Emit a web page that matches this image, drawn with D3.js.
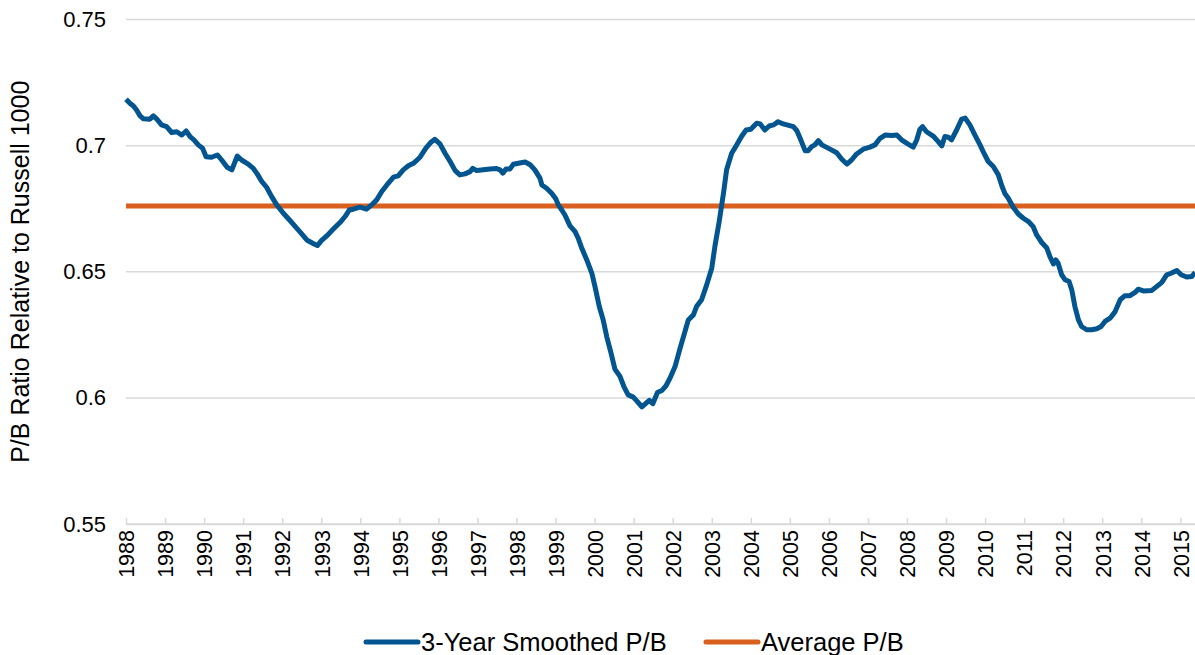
<!DOCTYPE html>
<html>
<head>
<meta charset="utf-8">
<script src="https://cdn.jsdelivr.net/npm/d3@7"></script>
<style>
  body { margin: 0; background: #fff; }
  svg { display: block; font-family: "Liberation Sans", Arial, sans-serif; }
  .grid line { stroke: #d9d9d9; stroke-width: 1.5; }
  .tick text { fill: #000; }
</style>
</head>
<body>
<div id="chart"></div>
<script>
// dates as decimal years, P/B relative to Russell 1000
const dates = [
  1988.00, 1988.10, 1988.19, 1988.27, 1988.36, 1988.44, 1988.61, 1988.70, 1988.79, 1988.91,
  1989.04, 1989.17, 1989.30, 1989.43, 1989.54, 1989.64, 1989.74, 1989.85, 1989.96, 1990.05,
  1990.19, 1990.34, 1990.45, 1990.59, 1990.71, 1990.85, 1990.96, 1991.13, 1991.26, 1991.36,
  1991.48, 1991.60, 1991.73, 1991.86, 1992.03, 1992.20, 1992.37, 1992.50, 1992.63, 1992.78,
  1992.90, 1993.01, 1993.14, 1993.31, 1993.48, 1993.61, 1993.72, 1993.82, 1993.99, 1994.16,
  1994.29, 1994.42, 1994.55, 1994.68, 1994.85, 1994.97, 1995.10, 1995.23, 1995.36, 1995.53,
  1995.68, 1995.80, 1995.91, 1996.04, 1996.17, 1996.30, 1996.43, 1996.55, 1996.68, 1996.81,
  1996.88, 1996.98, 1997.15, 1997.32, 1997.49, 1997.58, 1997.65, 1997.73, 1997.83, 1997.92,
  1998.05, 1998.22, 1998.35, 1998.47, 1998.60, 1998.65, 1998.77, 1998.90, 1999.01, 1999.07,
  1999.16, 1999.24, 1999.37, 1999.50, 1999.58, 1999.67, 1999.80, 1999.93, 2000.01, 2000.12,
  2000.22, 2000.31, 2000.41, 2000.52, 2000.65, 2000.75, 2000.86, 2000.99, 2001.09, 2001.21,
  2001.32, 2001.40, 2001.49, 2001.61, 2001.72, 2001.83, 2001.93, 2002.06, 2002.19, 2002.29,
  2002.40, 2002.53, 2002.61, 2002.74, 2002.87, 2003.00, 2003.08, 2003.19, 2003.30, 2003.38,
  2003.51, 2003.64, 2003.77, 2003.88, 2004.00, 2004.15, 2004.24, 2004.36, 2004.47, 2004.58,
  2004.70, 2004.83, 2005.09, 2005.18, 2005.28, 2005.39, 2005.47, 2005.56, 2005.64, 2005.73,
  2005.82, 2005.98, 2006.20, 2006.33, 2006.46, 2006.58, 2006.71, 2006.88, 2007.05, 2007.18,
  2007.31, 2007.44, 2007.61, 2007.74, 2007.86, 2008.03, 2008.16, 2008.25, 2008.33, 2008.40,
  2008.50, 2008.67, 2008.80, 2008.89, 2008.97, 2009.06, 2009.14, 2009.27, 2009.40, 2009.49,
  2009.61, 2009.74, 2009.87, 2009.97, 2010.08, 2010.21, 2010.34, 2010.43, 2010.51, 2010.59,
  2010.72, 2010.85, 2010.98, 2011.11, 2011.23, 2011.32, 2011.45, 2011.58, 2011.66, 2011.75,
  2011.81, 2011.87, 2011.96, 2012.05, 2012.15, 2012.22, 2012.30, 2012.39, 2012.47, 2012.60,
  2012.73, 2012.86, 2012.97, 2013.07, 2013.20, 2013.33, 2013.46, 2013.58, 2013.71, 2013.84,
  2013.92, 2014.05, 2014.27, 2014.39, 2014.52, 2014.65, 2014.76, 2014.91, 2015.02, 2015.16,
  2015.29, 2015.38
];
const smoothedPB = [
  0.7184, 0.7168, 0.7157, 0.7141, 0.7118, 0.7107, 0.7105, 0.7118, 0.7105, 0.7082,
  0.7075, 0.7052, 0.7055, 0.7042, 0.7058, 0.7036, 0.7023, 0.7003, 0.6990, 0.6956,
  0.6954, 0.6963, 0.6943, 0.6914, 0.6904, 0.6959, 0.6943, 0.6927, 0.6910, 0.6888,
  0.6857, 0.6835, 0.6798, 0.6765, 0.6732, 0.6703, 0.6673, 0.6650, 0.6626, 0.6613,
  0.6604, 0.6624, 0.6642, 0.6669, 0.6695, 0.6719, 0.6745, 0.6748, 0.6756, 0.6748,
  0.6765, 0.6785, 0.6818, 0.6844, 0.6875, 0.6880, 0.6904, 0.6920, 0.6930, 0.6954,
  0.6990, 0.7012, 0.7025, 0.7007, 0.6970, 0.6937, 0.6901, 0.6884, 0.6888, 0.6897,
  0.6910, 0.6901, 0.6904, 0.6907, 0.6909, 0.6904, 0.6891, 0.6907, 0.6907, 0.6926,
  0.6930, 0.6935, 0.6924, 0.6904, 0.6871, 0.6844, 0.6831, 0.6811, 0.6788, 0.6765,
  0.6745, 0.6725, 0.6682, 0.6659, 0.6633, 0.6594, 0.6547, 0.6494, 0.6441, 0.6362,
  0.6309, 0.6243, 0.6184, 0.6114, 0.6085, 0.6045, 0.6012, 0.6003, 0.5986, 0.5964,
  0.5979, 0.5990, 0.5977, 0.6021, 0.6029, 0.6048, 0.6078, 0.6124, 0.6197, 0.6250,
  0.6309, 0.6329, 0.6362, 0.6389, 0.6448, 0.6514, 0.6600, 0.6699, 0.6811, 0.6904,
  0.6970, 0.7003, 0.7038, 0.7062, 0.7065, 0.7089, 0.7086, 0.7062, 0.7078, 0.7082,
  0.7095, 0.7086, 0.7075, 0.7059, 0.7023, 0.6980, 0.6980, 0.6996, 0.7003, 0.7020,
  0.7003, 0.6990, 0.6972, 0.6946, 0.6927, 0.6943, 0.6967, 0.6986, 0.6994, 0.7003,
  0.7029, 0.7042, 0.7040, 0.7042, 0.7023, 0.7006, 0.6994, 0.7023, 0.7065, 0.7075,
  0.7055, 0.7038, 0.7016, 0.6999, 0.7036, 0.7033, 0.7023, 0.7062, 0.7105, 0.7109,
  0.7082, 0.7042, 0.7003, 0.6970, 0.6937, 0.6917, 0.6884, 0.6840, 0.6809, 0.6792,
  0.6756, 0.6729, 0.6712, 0.6699, 0.6679, 0.6646, 0.6616, 0.6594, 0.6560, 0.6531,
  0.6547, 0.6534, 0.6488, 0.6468, 0.6461, 0.6428, 0.6362, 0.6309, 0.6283, 0.6270,
  0.6270, 0.6274, 0.6283, 0.6303, 0.6316, 0.6342, 0.6389, 0.6405, 0.6405, 0.6418,
  0.6431, 0.6424, 0.6426, 0.6441, 0.6457, 0.6488, 0.6494, 0.6505, 0.6488, 0.6479,
  0.6481, 0.6497
];
const averagePB = 0.6761;
const yTicks = [0.55, 0.6, 0.65, 0.7, 0.75];
const yearTicks = d3.range(1988, 2016);
const seriesNames = ["3-Year Smoothed P/B", "Average P/B"];
const colors = ["#03558f", "#d9601e"];

const width = 1195, height = 655;
const margin = {top: 19.5, right: 0, bottom: 131, left: 126};

const svg = d3.select("#chart").append("svg")
    .attr("width", width)
    .attr("height", height);

const x = d3.scaleLinear()
    .domain([1988, 2015.375])
    .range([margin.left, width - margin.right]);

const y = d3.scaleLinear()
    .domain([0.55, 0.75])
    .range([height - margin.bottom, margin.top]);

// horizontal gridlines
svg.append("g")
    .attr("class", "grid")
    .selectAll("line")
    .data(yTicks)
    .join("line")
    .attr("x1", margin.left)
    .attr("x2", width)
    .attr("y1", d => y(d))
    .attr("y2", d => y(d));

// y axis labels
let yAxis = svg.append("g")
    .attr("transform", `translate(${margin.left},0)`)
    .call(d3.axisLeft(y).tickValues(yTicks).tickSize(0).tickPadding(20)
        .tickFormat(d => d3.format("")(+d.toFixed(2))));
yAxis.select(".domain").remove();
yAxis.selectAll("text").style("font-size", "22px");

// x axis: ticks pointing inward, labels rotated
let xAxis = svg.append("g")
    .attr("transform", `translate(0,${y(0.55)})`)
    .call(d3.axisBottom(x).tickValues(yearTicks).tickSizeInner(-6).tickSizeOuter(0).tickFormat(d3.format("d")));
xAxis.select(".domain").attr("stroke", "#d9d9d9").attr("stroke-width", 1.5);
xAxis.selectAll(".tick line").attr("stroke", "#d9d9d9").attr("stroke-width", 1.5);
xAxis.selectAll("text")
    .style("font-size", "21.5px")
    .attr("text-anchor", "end")
    .attr("transform", "rotate(-90)")
    .attr("x", -6)
    .attr("y", 0)
    .attr("dy", "0.36em");

// y axis title
svg.append("text")
    .attr("transform", `translate(29,${(y(0.55) + y(0.75)) / 2}) rotate(-90)`)
    .attr("text-anchor", "middle")
    .style("font-size", "25px")
    .text("P/B Ratio Relative to Russell 1000");

// average line
svg.append("line")
    .attr("x1", x(1988))
    .attr("x2", width)
    .attr("y1", y(averagePB))
    .attr("y2", y(averagePB))
    .attr("stroke", colors[1])
    .attr("stroke-width", 5);

// smoothed series
let points = dates.map((d, i) => [d, smoothedPB[i]]);
let line = d3.line()
    .x(d => x(d[0]))
    .y(d => y(d[1]));

svg.append("path")
    .datum(points)
    .attr("d", line)
    .attr("fill", "none")
    .attr("stroke", colors[0])
    .attr("stroke-width", 5)
    .attr("stroke-linejoin", "round");

// legend
let legendPos = [366, 706];
let legend = svg.append("g").selectAll("g")
    .data(seriesNames)
    .join("g")
    .attr("transform", (d, i) => `translate(${legendPos[i]},642)`);

legend.append("line")
    .attr("x1", 0)
    .attr("x2", 52)
    .attr("stroke", (d, i) => colors[i])
    .attr("stroke-width", 5)
    .attr("stroke-linecap", "round");

legend.append("text")
    .attr("x", 55)
    .attr("y", 9)
    .style("font-size", "25.5px")
    .text(d => d);
</script>
</body>
</html>
